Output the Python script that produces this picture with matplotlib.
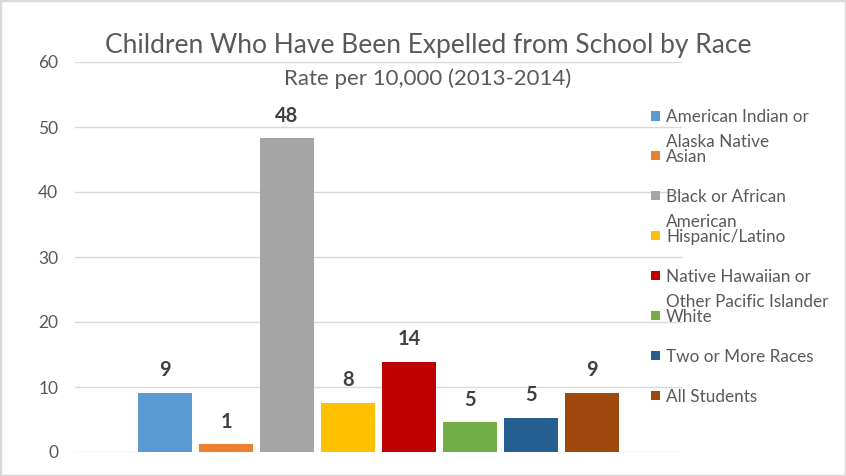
import matplotlib
matplotlib.use("Agg")
import matplotlib.pyplot as plt
from matplotlib.patches import Rectangle

categories = ["American Indian or\nAlaska Native", "Asian", "Black or African\nAmerican",
              "Hispanic/Latino", "Native Hawaiian or\nOther Pacific Islander", "White",
              "Two or More Races", "All Students"]
values = [9.1, 1.2, 48.3, 7.6, 13.9, 4.6, 5.3, 9.1]
labels = ["9", "1", "48", "8", "14", "5", "5", "9"]
colors = ["#5B9BD5", "#ED7D31", "#A5A5A5", "#FFC000", "#C00000", "#70AD47", "#255E91", "#9E480E"]
yticks = [0, 10, 20, 30, 40, 50, 60]

FONT = "Lato"
plt.rcParams['font.family'] = [FONT, 'DejaVu Sans']

fig = plt.figure(figsize=(8.46, 4.76), dpi=100)
fig.patches.append(Rectangle((0, 0), 1, 1, transform=fig.transFigure, fill=False,
                             edgecolor="#D9D9D9", linewidth=2.5))
ax = fig.add_axes([75/846, 1-452/476, (682-75)/846, (452-62)/476])

x = list(range(len(values)))
bars = ax.bar(x, values, width=0.9, color=colors, zorder=3)
for xi, v, lab in zip(x, values, labels):
    ax.annotate(lab, (xi, v), xytext=(0, 9), textcoords="offset points",
                ha="center", va="bottom", fontsize=14.5, fontweight="bold", color="#404040")

ax.set_ylim(0, 60)
ax.set_xlim(-1.475, 8.475)
ax.set_yticks(yticks)
ax.set_yticklabels([str(t) for t in yticks], fontsize=12.5, color="#595959")
ax.set_xticks([])
ax.tick_params(axis="y", length=0, pad=12)
ax.grid(axis="y", color="#D9D9D9", linewidth=1, zorder=0)
for s in ax.spines.values():
    s.set_visible(False)

fig.text(428/846, 1-45/476, "Children Who Have Been Expelled from School by Race",
         ha="center", va="center", fontsize=19, color="#595959")
fig.text(428/846, 1-79/476, "Rate per 10,000 (2013-2014)",
         ha="center", va="center", fontsize=16, color="#595959")

# legend
for i, (cat, col) in enumerate(zip(categories, colors)):
    yc = 116 + i * 39.9
    fig.patches.append(Rectangle((651/846, 1-(yc+4.5)/476), 9/846, 9/476,
                                 transform=fig.transFigure, facecolor=col, edgecolor="none"))
    fig.text(666/846, 1-(yc-6.5)/476, cat, ha="left", va="top", fontsize=12.3,
             color="#595959", linespacing=1.66)

fig.savefig("out.png", dpi=100)
